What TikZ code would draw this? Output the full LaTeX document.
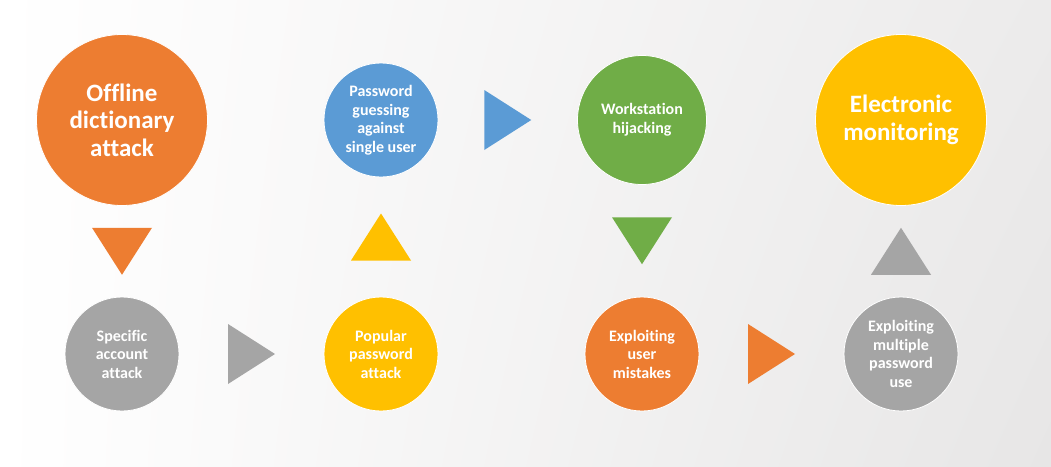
\documentclass[tikz,border=0pt]{standalone}
\usepackage{fontspec}
\setmainfont{Carlito}[Ligatures={NoCommon}]
\usetikzlibrary{calc, shadings}
\definecolor{orgc}{HTML}{ED7D31}
\definecolor{grayc}{HTML}{A5A5A5}
\definecolor{yelc}{HTML}{FFC000}
\definecolor{bluec}{HTML}{5B9BD5}
\definecolor{greenc}{HTML}{70AD47}
\definecolor{bgright}{HTML}{ECEBEB}
\definecolor{bgcorner}{HTML}{E7E6E6}
\begin{document}
\begin{tikzpicture}[x=1pt, y=-1pt,
  dot/.style={circle, draw=white, line width=0.8pt, inner sep=0pt, text=white, align=center},
  bigdot/.style={dot, minimum size=171pt, font=\bfseries\fontsize{25}{27.5}\selectfont},
  middot/.style={dot, minimum size=129pt, font=\bfseries\fontsize{16}{19}\selectfont},
  smalldot/.style={dot, minimum size=114pt, font=\bfseries\fontsize{16}{18.5}\selectfont}]

  % background
  \shade[upper left=white, lower left=white, upper right=bgright, lower right=bgcorner]
   (0,0) rectangle (1051,466);
  \useasboundingbox (0,0) rectangle (1051,466);

  \node[bigdot, fill=orgc] (offline) at (122,120) {Offline\\dictionary\\attack};
  \node[smalldot, fill=grayc] (specific) at (122,354) {Specific\\account\\attack};
  \node[smalldot, fill=yelc] (popular) at (381,354) {Popular\\password\\attack};
  \node[smalldot, fill=bluec] (guessing) at (381,120) {Password\\guessing\\against\\single user};
  \node[middot, fill=greenc] (hijacking) at (642,120) {Workstation\\hijacking};
  \node[smalldot, fill=orgc] (mistakes) at (642,354) {Exploiting\\user\\mistakes};
  \node[smalldot, fill=grayc] (multiple) at (901,354) {Exploiting\\multiple\\password\\use};
  \node[bigdot, fill=yelc] (monitoring) at (901,120) {Electronic\\monitoring};

  % pointers between the steps
  \foreach \a/\b/\c/\r/\s in {offline/specific/orgc/-90/90, specific/popular/grayc/0/180,
    popular/guessing/yelc/90/-90, guessing/hijacking/bluec/0/180,
    hijacking/mistakes/greenc/-90/90, mistakes/multiple/orgc/0/180,
    multiple/monitoring/grayc/90/-90}
   \fill[\c, shift={($(\a.\r)!0.5!(\b.\s)$)}, rotate=\r]
    (-23.5pt,-30pt) -- (23.5pt,0pt) -- (-23.5pt,30pt) -- cycle;
\end{tikzpicture}
\end{document}
